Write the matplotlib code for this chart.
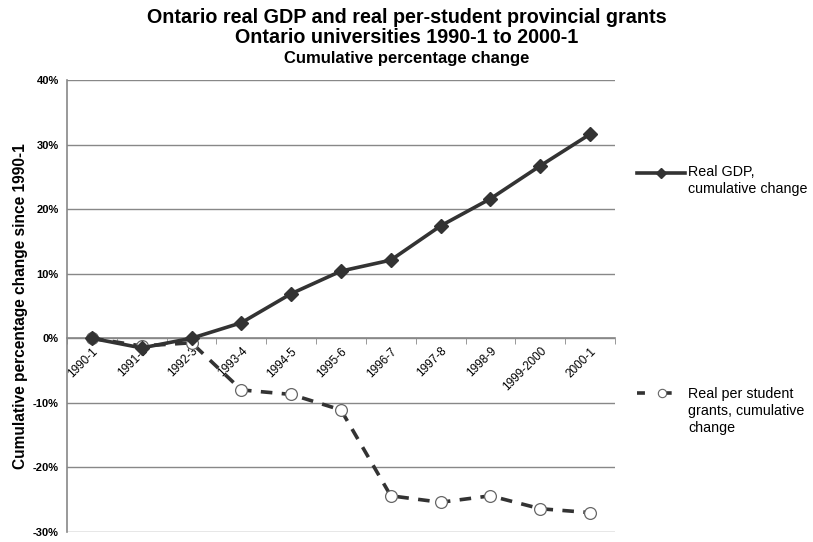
import matplotlib
matplotlib.use("Agg")
import matplotlib.pyplot as plt
from matplotlib.lines import Line2D
import numpy as np

plt.rcParams['font.family'] = ['Liberation Sans', 'DejaVu Sans']

years = ["1990-1", "1991-2", "1992-3", "1993-4", "1994-5", "1995-6",
         "1996-7", "1997-8", "1998-9", "1999-2000", "2000-1"]
gdp = [0.0, -1.5, 0.0, 2.4, 6.9, 10.4, 12.1, 17.4, 21.6, 26.7, 31.6]
grants = [0.0, -1.2, -0.7, -8.0, -8.7, -11.1, -24.4, -25.4, -24.4, -26.4, -27.0]
yticks = [40, 30, 20, 10, 0, -10, -20, -30]
labels = ["Real GDP,\ncumulative change",
          "Real per student\ngrants, cumulative\nchange"]

W, H = 813, 542
fig = plt.figure(figsize=(W / 100, H / 100), dpi=100)
ax = fig.add_axes([0.0824, 0.0185, 0.674, 0.834])

x = np.arange(len(years))
col = "#333333"
ax.plot(x, grants, linestyle=(0, (3.2, 2.6)), color=col, lw=2.6, marker='o', ms=8.5,
        mfc='white', mec='#666666', mew=0.9, zorder=3)
ax.plot(x, gdp, linestyle='-', color=col, lw=2.6, marker='D', ms=7.5,
        mfc=col, mec=col, zorder=4)

ax.set_xlim(-0.5, len(years) - 0.5)
ax.set_ylim(-30, 40)
ax.set_yticks(yticks)
ax.set_yticklabels([f"{v}%" for v in yticks], fontsize=8, fontweight='bold')
ax.yaxis.grid(True, color='#888888', lw=1)
ax.set_axisbelow(True)
ax.tick_params(axis='y', length=0, pad=6)

for s in ['top', 'right']:
    ax.spines[s].set_visible(False)
ax.spines['left'].set_color('#888888')
ax.spines['left'].set_linewidth(1.2)
ax.spines['bottom'].set_position(('data', 0))
ax.spines['bottom'].set_color('#888888')
ax.spines['bottom'].set_linewidth(1.2)

ax.set_xticks(x)
ax.set_xticklabels(years, rotation=45, ha='right', va='top',
                   rotation_mode='anchor', fontsize=8.5)
ax.tick_params(axis='x', which='major', length=0, pad=5)
ax.set_xticks(np.arange(len(years) + 1) - 0.5, minor=True)
ax.tick_params(axis='x', which='minor', length=4, direction='out', color='#888888')

ax.set_ylabel("Cumulative percentage change since 1990-1", fontsize=11.2,
              fontweight='bold', labelpad=3)

fig.text(0.5, 0.968, "Ontario real GDP and real per-student provincial grants",
         ha='center', va='center', fontsize=14.2, fontweight='bold')
fig.text(0.5, 0.930, "Ontario universities 1990-1 to 2000-1",
         ha='center', va='center', fontsize=14.2, fontweight='bold')
fig.text(0.5, 0.892, "Cumulative percentage change",
         ha='center', va='center', fontsize=12, fontweight='bold')

# legend entries (handles in figure pixel coords converted to fractions)
def fx(px):
    return px / W

def fy(py):
    return 1 - py / H

# Entry 1: solid line with diamond
fig.add_artist(Line2D([fx(637), fx(685)], [fy(173), fy(173)], color=col, lw=2.6,
                      transform=fig.transFigure))
fig.add_artist(Line2D([fx(661)], [fy(173)], color=col, marker='D', ms=5.5,
                      mfc=col, mec=col, transform=fig.transFigure))
fig.text(fx(688), fy(165), labels[0], ha='left', va='top', fontsize=10.3,
         linespacing=1.27)

# Entry 2: dashed line with open circle
fig.add_artist(Line2D([fx(637), fx(685)], [fy(393), fy(393)], color=col, lw=2.6,
                      linestyle=(0, (2.2, 5.2)), transform=fig.transFigure))
fig.add_artist(Line2D([fx(662)], [fy(393)], color='#666666', marker='o', ms=6,
                      mfc='white', mec='#666666', mew=0.8, transform=fig.transFigure))
fig.text(fx(688), fy(387), labels[1], ha='left', va='top', fontsize=10.3,
         linespacing=1.27)

fig.savefig("out.png", dpi=100)
